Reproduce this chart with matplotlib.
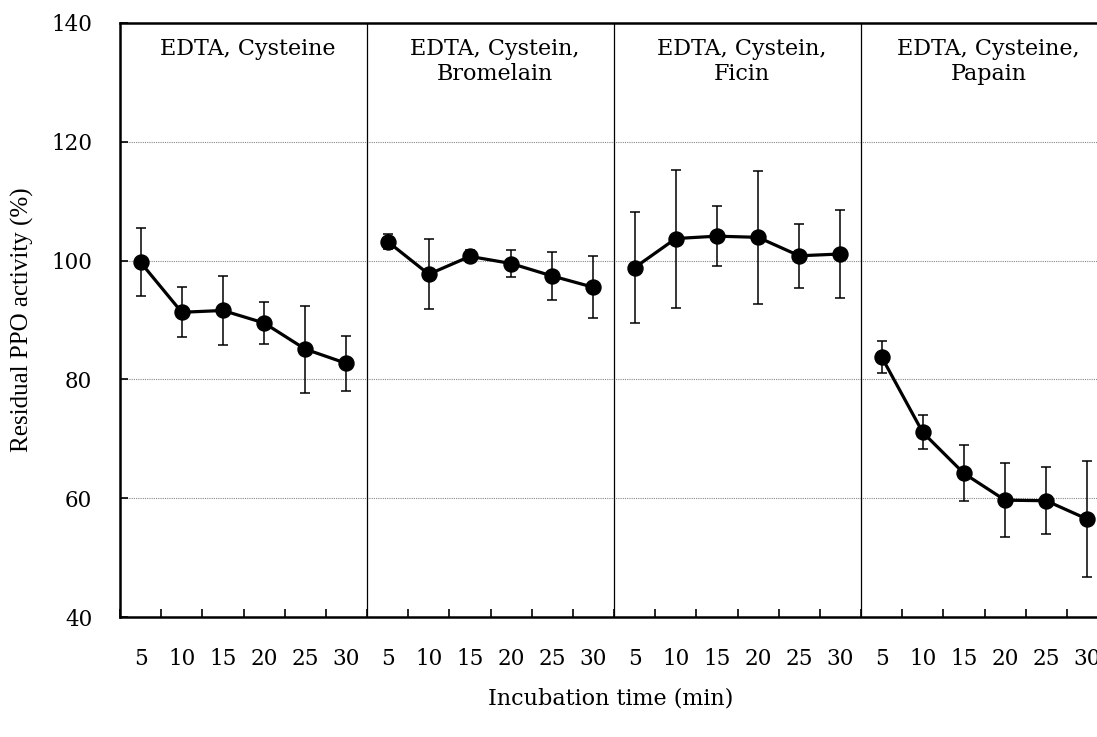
import matplotlib
matplotlib.use("Agg")
import matplotlib.pyplot as plt
import numpy as np

# Incubation times per treatment group and residual activity (mean, SD)
times = [5, 10, 15, 20, 25, 30]
groups = ["EDTA, Cysteine", "EDTA, Cystein,\nBromelain",
          "EDTA, Cystein,\nFicin", "EDTA, Cysteine,\nPapain"]
mean_cys = [99.7, 91.3, 91.6, 89.5, 85.1, 82.7]
sd_cys = [5.7, 4.2, 5.8, 3.5, 7.3, 4.6]
mean_bro = [103.2, 97.7, 100.7, 99.5, 97.4, 95.5]
sd_bro = [1.3, 5.9, 1.0, 2.2, 4.1, 5.2]
mean_fic = [98.8, 103.7, 104.1, 103.9, 100.8, 101.1]
sd_fic = [9.3, 11.6, 5.0, 11.2, 5.4, 7.4]
mean_pap = [83.8, 71.1, 64.2, 59.7, 59.6, 56.5]
sd_pap = [2.7, 2.85, 4.7, 6.2, 5.6, 9.8]

means = [mean_cys, mean_bro, mean_fic, mean_pap]
sds = [sd_cys, sd_bro, sd_fic, sd_pap]

serif = ["DejaVu Serif"]
fig = plt.figure(figsize=(10.97, 7.37), dpi=100)
W, H = 1097, 737
left, right, top, bottom = 120, 1108, 22.7, 617.3
ax = fig.add_axes([left / W, 1 - bottom / H, (right - left) / W, (bottom - top) / H])

n = len(times)
for g in range(len(groups)):
    x = np.arange(n) + g * n + 0.5
    ax.errorbar(x, means[g], yerr=sds[g], fmt="none", ecolor="black",
                elinewidth=1.1, capsize=3.8, capthick=1.1, zorder=3)
    ax.plot(x, means[g], color="black", lw=2.3, marker="o", ms=10.8,
            zorder=4, clip_on=False)
    ax.text(g * n + n / 2 + 0.1, 137.4, groups[g], ha="center", va="top",
            fontsize=16, family=serif, linespacing=1.15)
    if g > 0:
        ax.axvline(g * n, color="black", lw=0.9, zorder=2)

ax.set_xlim(0, n * len(groups))
ax.set_ylim(40, 140)

# y grid
for yv in [60, 80, 100, 120]:
    ax.axhline(yv, color="#888888", lw=0.8, ls=(0, (1, 1)), zorder=1)

ax.set_yticks([40, 60, 80, 100, 120, 140])
ax.tick_params(axis="y", direction="in", length=6, width=1.2, pad=20,
               labelsize=15.5)
ax.set_xticks(np.arange(0, n * len(groups) + 1))
ax.set_xticklabels([])
ax.set_xticks(np.arange(n * len(groups)) + 0.5, minor=True)
ax.set_xticklabels([str(t) for t in times] * len(groups), minor=True)
ax.tick_params(axis="x", which="major", direction="in", length=6, width=1.2)
ax.tick_params(axis="x", which="minor", length=0, pad=22, labelsize=15.5)
for lab in ax.get_xticklabels(minor=True) + ax.get_yticklabels():
    lab.set_family(serif)

for s in ["left", "bottom", "top"]:
    ax.spines[s].set_linewidth(1.8)
ax.spines["right"].set_visible(False)

ax.set_ylabel("Residual PPO activity (%)", family=["Liberation Serif"],
              fontsize=18, labelpad=0)
ax.yaxis.set_label_coords(-86 / (right - left), 0.5)
fig.text(611 / W, 1 - 699 / H, "Incubation time (min)", ha="center",
         va="center", family=serif, fontsize=16)

fig.savefig("out.png", dpi=100)
